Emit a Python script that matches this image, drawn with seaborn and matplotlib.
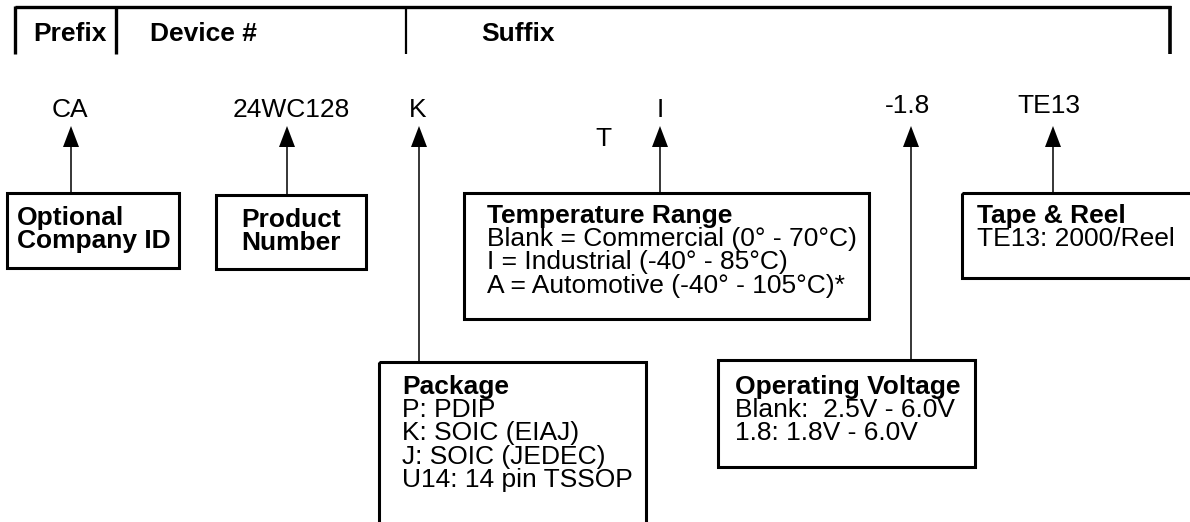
import matplotlib
matplotlib.use('Agg')
import matplotlib.pyplot as plt
import seaborn as sns
from matplotlib.patches import Rectangle

sns.set_style('white')
plt.rcParams['font.family'] = ['Liberation Sans', 'DejaVu Sans']
plt.rcParams['text.color'] = 'black'

# --- content ---
header_labels = ['Prefix', 'Device #', 'Suffix']
code_parts = ['CA', '24WC128', 'K', 'T', 'I', '-1.8', 'TE13']

company_lines = ['Optional', 'Company ID']
product_lines = ['Product', 'Number']
temp_title = 'Temperature Range'
temp_lines = ['Blank = Commercial (0° - 70°C)',
              'I = Industrial (-40° - 85°C)',
              'A = Automotive (-40° - 105°C)*']
tape_title = 'Tape & Reel'
tape_lines = ['TE13: 2000/Reel']
package_title = 'Package'
package_lines = ['P: PDIP', 'K: SOIC (EIAJ)', 'J: SOIC (JEDEC)', 'U14: 14 pin TSSOP']
voltage_title = 'Operating Voltage'
voltage_lines = ['Blank:  2.5V - 6.0V', '1.8: 1.8V - 6.0V']

# --- layout (pixel coords, y down) ---
W, H = 1190, 522
FS = 19
LINE_H = 23.2

fig = plt.figure(figsize=(W / 100, H / 100), dpi=100)
ax = fig.add_axes([0, 0, 1, 1])
ax.set_xlim(0, W)
ax.set_ylim(H, 0)
ax.axis('off')


def box(x0, y0, x1, y1):
    ax.add_patch(Rectangle((x0, y0), x1 - x0, y1 - y0, fill=False,
                           lw=2.2, ec='black', joinstyle='miter'))


def arrow(x, y_from, tip=126, head_len=21, head_w=16):
    base = tip + head_len
    ax.plot([x, x], [y_from, base], color='black', lw=1.1, solid_capstyle='butt')
    ax.fill([x - head_w / 2, x + head_w / 2, x], [base, base, tip], color='black', lw=0)


def lines(x, y0, title, rows, bold_rows=False, ha='left'):
    y = y0
    if title:
        ax.text(x, y, title, fontsize=FS, fontweight='bold', ha=ha, va='baseline')
        y += LINE_H
    for r in rows:
        ax.text(x, y, r, fontsize=FS, fontweight='bold' if bold_rows else 'normal',
                ha=ha, va='baseline')
        y += LINE_H


# header bracket
ax.plot([15, 1171], [7, 7], color='black', lw=2.4, solid_capstyle='butt')
for xv, lw in [(15, 2.4), (116, 2.4), (406, 1.6), (1170, 2.6)]:
    ax.plot([xv, xv], [6, 54], color='black', lw=lw, solid_capstyle='butt')
for lab, xv in zip(header_labels, [33, 150, 481]):
    ax.text(xv, 41, lab, fontsize=FS, fontweight='bold', ha='left', va='baseline')

# part number pieces
code_x = [70, 291, 418, 603, 660, 907, 1049]
code_y = [117, 117, 117, 146, 117, 113, 113]
for t, xv, yv in zip(code_parts, code_x, code_y):
    ax.text(xv, yv, t, fontsize=FS, ha='center', va='baseline')

# arrows
arrow(71, 194)
arrow(287, 195)
arrow(419, 362)
arrow(660, 193)
arrow(911, 360)
arrow(1053, 193)

# boxes
box(7, 193, 179, 268)
lines(17, 225, None, company_lines, bold_rows=True)

box(216, 195, 366, 269)
lines(291, 227, None, product_lines, bold_rows=True, ha='center')

box(464, 193, 869, 319)
lines(487, 223, temp_title, temp_lines)

box(962, 193, 1200, 278)
lines(977, 223, tape_title, tape_lines)

box(379, 362, 646, 545)
lines(402, 394, package_title, package_lines)

box(718, 360, 975, 467)
lines(735, 394, voltage_title, voltage_lines)

fig.savefig('out.png', dpi=100, facecolor='white')
